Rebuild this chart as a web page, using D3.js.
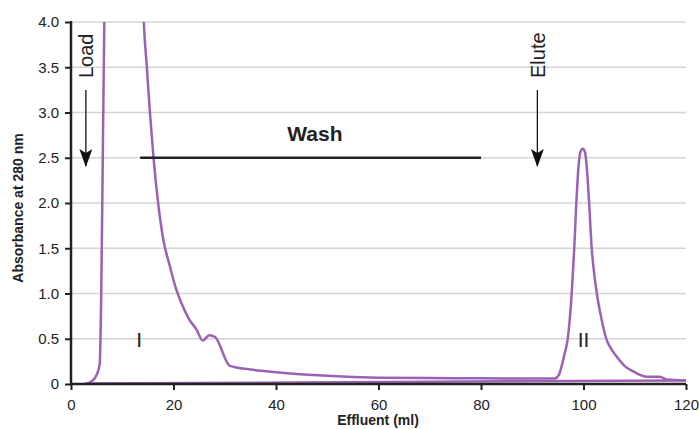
<!DOCTYPE html>
<html>
<head>
<meta charset="utf-8">
<script src="https://cdn.jsdelivr.net/npm/d3@7"></script>
<style>
  body { margin: 0; background: #fff; }
  svg { display: block; font-family: "Liberation Sans", Arial, sans-serif; }
</style>
</head>
<body>
<svg width="699" height="429"></svg>
<script>
// absorbance trace (ml, A280)
var trace = [
  [2.7, 0], [4, 0.03], [5, 0.1], [5.6, 0.22], [5.9, 1.0], [6.2, 2.5], [6.5, 4.0], [6.8, 5.0],
  [13.6, 5.0], [14.2, 4.0], [14.8, 3.5], [15.4, 3.0], [16.1, 2.5], [17.0, 2.0], [18.0, 1.6],
  [19.3, 1.3], [20.5, 1.05], [21.5, 0.9], [23, 0.72], [24.5, 0.6], [25.7, 0.48], [27, 0.54],
  [28.1, 0.52], [31, 0.2], [35, 0.16], [40, 0.13], [50, 0.09], [60, 0.07], [70, 0.065],
  [80, 0.063], [90, 0.06], [94.4, 0.06], [95.2, 0.1], [95.7, 0.19], [96.3, 0.33], [96.9, 0.49],
  [97.7, 1.0], [98.2, 1.5], [98.6, 2.0], [99.1, 2.45], [99.5, 2.58], [99.9, 2.6], [100.3, 2.56],
  [100.7, 2.35], [101.1, 2.0], [101.6, 1.5], [102.0, 1.26], [102.6, 1.0], [103.4, 0.75],
  [104.5, 0.49], [105.5, 0.38], [106.5, 0.3], [108, 0.2], [109.7, 0.14], [111, 0.1],
  [112.3, 0.08], [114.9, 0.08], [116.2, 0.05], [120, 0.04]
];
var baseline = [[2.7, 0.005], [120, 0.04]];

var xTicks = [0, 20, 40, 60, 80, 100, 120];
var yTicks = [0, 0.5, 1.0, 1.5, 2.0, 2.5, 3.0, 3.5, 4.0];
var yTickLabels = ["0", "0.5", "1.0", "1.5", "2.0", "2.5", "3.0", "3.5", "4.0"];

var washRange = [13.5, 80];
var washLabel = {label: "Wash", x: 47.6};
var markers = [{label: "Load", x: 2.9}, {label: "Elute", x: 91}];
var peaks = [{label: "I", x: 13.3, y: 0.5}, {label: "II", x: 100, y: 0.5}];

var svg = d3.select("svg");
var x = d3.scaleLinear().domain([0, 120]).range([71, 686]);
var y = d3.scaleLinear().domain([0, 4]).range([384, 22]);
var purple = "#9b62b4";
var ink = "#222";

// grid
svg.append("g").selectAll("line").data(yTicks.slice(1)).enter().append("line")
  .attr("x1", x(0)).attr("x2", x(120))
  .attr("y1", y).attr("y2", y)
  .style("stroke", "#d4d4d4").style("stroke-width", 1.5);

svg.append("defs").append("clipPath").attr("id", "plot")
  .append("rect").attr("x", x(0)).attr("y", y(4)).attr("width", x(120) - x(0)).attr("height", y(0) - y(4));

var line = d3.line().x(function(d) {return x(d[0]);}).y(function(d) {return y(d[1]);});

svg.append("path").datum(baseline).attr("d", line)
  .style("fill", "none").style("stroke", purple).style("stroke-width", 2.5);
svg.append("path").datum(trace).attr("d", line.curve(d3.curveMonotoneX))
  .attr("clip-path", "url(#plot)")
  .style("fill", "none").style("stroke", purple).style("stroke-width", 2.5);

// axes
var xAxis = svg.append("g").attr("transform", "translate(0," + y(0) + ")")
  .call(d3.axisBottom(x).tickValues(xTicks).tickSize(6).tickPadding(9).tickFormat(d3.format("d")));
var yAxis = svg.append("g").attr("transform", "translate(" + x(0) + ",0)")
  .call(d3.axisLeft(y).tickValues(yTicks).tickSize(6).tickPadding(6)
    .tickFormat(function(d, i) {return yTickLabels[i];}));
[xAxis, yAxis].forEach(function(a) {
  a.select(".domain").style("stroke", ink).style("stroke-width", 2.5).attr("d",
    a === xAxis ? "M" + x(0) + ",0H" + x(120) : "M0," + (y(4) - 1) + "V" + y(0));
  a.selectAll(".tick line").style("stroke", ink).style("stroke-width", 2);
  a.selectAll(".tick text").style("font-size", "15px").style("fill", ink)
    .style("font-family", "'Liberation Sans', Arial, sans-serif");
});

// wash bar
svg.append("line").attr("x1", x(washRange[0])).attr("x2", x(washRange[1]))
  .attr("y1", y(2.5)).attr("y2", y(2.5))
  .style("stroke", ink).style("stroke-width", 2.5);
svg.append("text").attr("x", x(washLabel.x)).attr("y", 141)
  .attr("text-anchor", "middle").style("font-weight", "bold").style("font-size", "21px")
  .style("fill", ink).text(washLabel.label);

// load / elute arrows
svg.append("defs").append("marker").attr("id", "head")
  .attr("viewBox", "0 0 18 13").attr("refX", 17).attr("refY", 6.5)
  .attr("markerWidth", 18).attr("markerHeight", 13).attr("markerUnits", "userSpaceOnUse")
  .attr("orient", "auto")
  .append("path").attr("d", "M0,0L18,6.5L0,13L4,6.5Z")
  .style("fill", "#111");
var mk = svg.append("g").selectAll("g").data(markers).enter().append("g");
mk.append("line")
  .attr("x1", function(d) {return x(d.x);}).attr("x2", function(d) {return x(d.x);})
  .attr("y1", 90).attr("y2", 166)
  .attr("marker-end", "url(#head)")
  .style("stroke", "#111").style("stroke-width", 1.3);
mk.append("text")
  .attr("transform", function(d) {return "translate(" + (x(d.x) + 7.5) + ",78) rotate(-90)";})
  .style("font-size", "20px").style("fill", ink)
  .text(function(d) {return d.label;});

// peak labels
svg.append("g").selectAll("text").data(peaks).enter().append("text")
  .attr("x", function(d) {return x(d.x);}).attr("y", function(d) {return y(d.y) + 8;})
  .attr("text-anchor", "middle").style("font-size", "21px").style("fill", ink)
  .text(function(d) {return d.label;});

// axis titles
svg.append("text").attr("transform", "translate(23,208) rotate(-90)")
  .attr("text-anchor", "middle").style("font-weight", "bold").style("font-size", "14px")
  .style("fill", ink).text("Absorbance at 280 nm");
svg.append("text").attr("x", 378).attr("y", 425)
  .attr("text-anchor", "middle").style("font-weight", "bold").style("font-size", "14px")
  .style("fill", ink).text("Effluent (ml)");
</script>
</body>
</html>
